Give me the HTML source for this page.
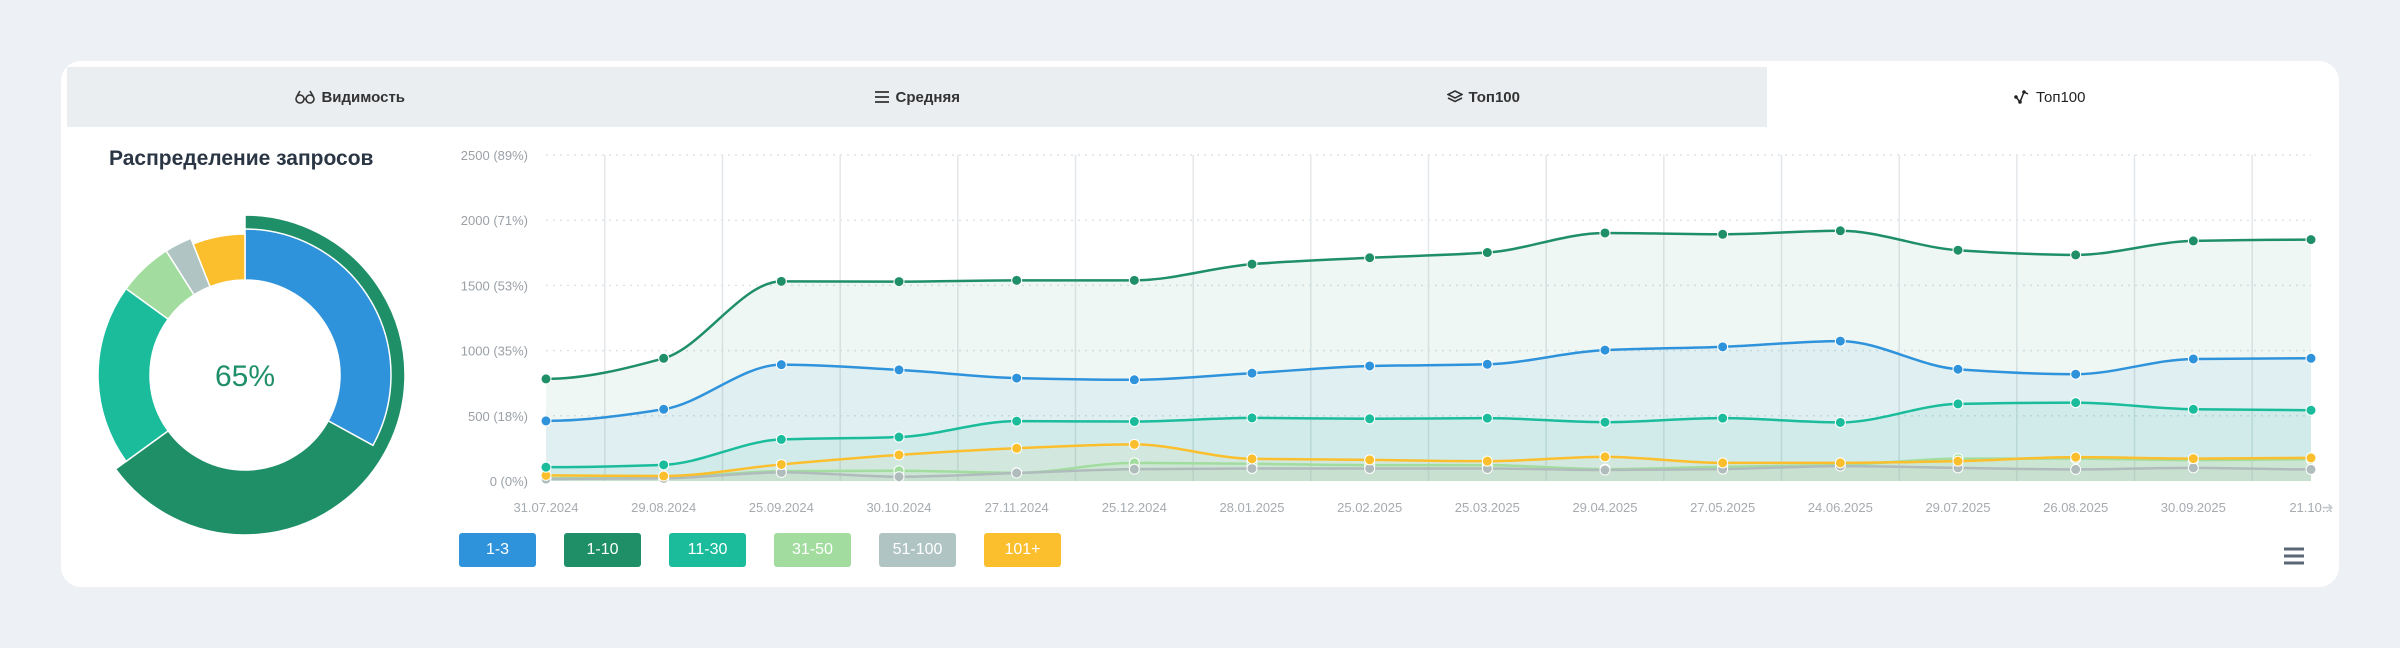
<!DOCTYPE html>
<html><head><meta charset="utf-8">
<style>
body{margin:0;width:2400px;height:648px;background:#edf0f4;font-family:"Liberation Sans","DejaVu Sans",sans-serif;position:relative;overflow:hidden}
.card{position:absolute;left:61px;top:61px;width:2278px;height:526px;background:#fff;border-radius:20px}
.tabs{position:absolute;left:67px;top:67px;width:2266px;height:60px;display:flex}
.tab{flex:1;background:#ebeef0;display:flex;align-items:center;justify-content:center;font-size:15px;font-weight:bold;color:#333;gap:6px}
.tab.active{background:#fff;font-weight:normal;color:#222}
.title{position:absolute;left:109px;top:147px;font-size:21px;font-weight:bold;color:#2b3645}
.lg{position:absolute;top:533px;width:77px;height:34px;border-radius:3px;color:#fff;font-size:16px;display:flex;align-items:center;justify-content:center;box-sizing:border-box}
</style></head><body>
<div class="card"></div>
<div class="tabs">
 <div class="tab"><svg width="20" height="14" viewBox="0 0 20 14"><circle cx="5" cy="9" r="4" fill="none" stroke="#333" stroke-width="1.6"/><circle cx="15" cy="9" r="4" fill="none" stroke="#333" stroke-width="1.6"/><path d="M2 6 L5 1 M18 6 L15 1 M9 9 h2" stroke="#333" stroke-width="1.6" fill="none"/></svg>Видимость</div>
 <div class="tab"><svg width="16" height="14" viewBox="0 0 16 14"><path d="M1 2h14M1 7h14M1 12h14" stroke="#333" stroke-width="1.8"/></svg>Средняя</div>
 <div class="tab"><svg width="16" height="14" viewBox="0 0 16 14"><path d="M8 1 L15 4.5 L8 8 L1 4.5Z M1 8 L8 11.5 L15 8" stroke="#333" stroke-width="1.6" fill="none"/></svg>Топ100</div>
 <div class="tab active"><svg width="16" height="14" viewBox="0 0 16 14"><path d="M2 7 L6 12 L10 2 L14 4" stroke="#222" stroke-width="1.5" fill="none"/><circle cx="2" cy="7" r="1.8" fill="#222"/><circle cx="6" cy="12" r="1.8" fill="#222"/><circle cx="10" cy="2" r="1.8" fill="#222"/></svg>Топ100</div>
</div>
<div class="title">Распределение запросов</div>
<svg id="donut" width="400" height="400" style="position:absolute;left:45px;top:175px"></svg>
<svg id="chart" width="2400" height="648" style="position:absolute;left:0;top:0;pointer-events:none"></svg>
<div class="lg" style="left:459px;background:#2f93dc">1-3</div>
<div class="lg" style="left:564px;background:#1f8f68">1-10</div>
<div class="lg" style="left:669px;background:#1abc9c">11-30</div>
<div class="lg" style="left:774px;background:#a2dd9f">31-50</div>
<div class="lg" style="left:879px;background:#b0c4c4">51-100</div>
<div class="lg" style="left:984px;background:#fbbf2d">101+</div>
<svg width="24" height="20" style="position:absolute;left:2282px;top:546px"><path d="M2 3h20M2 10h20M2 17h20" stroke="#5b6776" stroke-width="3"/></svg>
<script>
const categories=["31.07.2024","29.08.2024","25.09.2024","30.10.2024","27.11.2024","25.12.2024","28.01.2025","25.02.2025","25.03.2025","29.04.2025","27.05.2025","24.06.2025","29.07.2025","26.08.2025","30.09.2025","21.10..."];
const s1_10=[783,941,1531,1529,1539,1539,1663,1712,1752,1902,1892,1919,1770,1734,1841,1851];
const s1_3=[461,550,892,852,789,776,827,882,895,1004,1029,1073,857,819,936,941];
const s11_30=[106,124,319,337,459,456,484,477,482,451,482,449,591,601,550,543];
const s31_50=[20,25,76,79,63,139,132,122,122,91,109,122,172,172,160,167];
const s51_100=[15,20,66,33,61,91,96,96,96,84,91,114,101,89,101,89];
const s101=[43,38,127,200,251,281,170,162,152,185,139,139,152,183,172,177];
const yTicks=[0,500,1000,1500,2000,2500];
const yTickLabels=["0 (0%)","500 (18%)","1000 (35%)","1500 (53%)","2000 (71%)","2500 (89%)"];
const donutNames=["1-3","1-10","11-30","31-50","51-100","101+"];
const donutPct=[33,65,20,6,3,6];
const centerLabel="65%";
const NS="http://www.w3.org/2000/svg";
function mk(p,t,a){const e=document.createElementNS(NS,t);for(const k in a)e.setAttribute(k,a[k]);p.appendChild(e);return e;}
const X0=546,X1=2311,Y0=481,Y1=155,MAX=2500;
const xs=i=>X0+(X1-X0)*i/(categories.length-1);
const ys=v=>Y0-(Y0-Y1)*v/MAX;
const svg=document.getElementById('chart');
for(let i=0;i<yTicks.length;i++){
 const y=ys(yTicks[i]);
 if(i>0){const l=mk(svg,'line',{x1:546,x2:2311,y1:y,y2:y,stroke:'#dfe3e6','stroke-width':1.5,'stroke-dasharray':'2 5'});
 }
 const t=mk(svg,'text',{x:528,y:y+5,'text-anchor':'end','font-size':13,fill:'#9aa0a6'});t.textContent=yTickLabels[i];
 
}
for(let i=0;i<categories.length-1;i++){
 const x=(xs(i)+xs(i+1))/2;
 const l=mk(svg,'line',{x1:x,x2:x,y1:Y1,y2:Y0,stroke:'#e3e7ea','stroke-width':1.5});
 
}
categories.forEach((c,i)=>{const t=mk(svg,'text',{x:xs(i),y:512,'text-anchor':'middle','font-size':13,fill:'#a6abb0'});t.textContent=c;
 });
const ar=mk(svg,'text',{x:2322,y:512,'font-size':14,fill:'#c5cacf'});ar.textContent='➜';

function path(vals){
 const p=vals.map((v,i)=>[xs(i),ys(v)]);
 const n=p.length,h=p[1][0]-p[0][0];
 const dl=[];for(let i=0;i<n-1;i++)dl.push((p[i+1][1]-p[i][1])/h);
 const m=[];
 for(let i=0;i<n;i++){
  if(i===0||i===n-1){m.push(0);continue;}
  const a=dl[i-1],b=dl[i];
  if(a*b<=0)m.push(0);else m.push(2*a*b/(a+b));
 }
 let d=`M${p[0][0]},${p[0][1]}`;
 for(let i=1;i<n;i++){
  d+=` C${p[i-1][0]+h/3},${p[i-1][1]+m[i-1]*h/3} ${p[i][0]-h/3},${p[i][1]-m[i]*h/3} ${p[i][0]},${p[i][1]}`;
 }
 return d;
}
const series=[[s1_10,'#1f8f68','#1f8f68',0.07,'series-1-10'],[s1_3,'#2f93dc','#2f93dc',0.08,'series-1-3'],[s11_30,'#1abc9c','#1abc9c',0.08,'series-11-30'],[s31_50,'#a2dd9f','#a2dd9f',0.15,'series-31-50'],[s51_100,'#b0bcbc','#b0bcbc',0.12,'series-51-100'],[s101,'#fbbf2d','#fbbf2d',0.06,'series-101-plus']];
series.forEach(s=>{const d=path(s[0]);
 const a=mk(svg,'path',{d:d+` L${xs(s[0].length-1)},${Y0} L${X0},${Y0} Z`,fill:s[2],'fill-opacity':s[3]});
 });
[3,4,5,2,1,0].forEach(k=>{const s=series[k];
 const l=mk(svg,'path',{d:path(s[0]),fill:'none',stroke:s[1],'stroke-width':2.5});
 
 s[0].forEach((v,i)=>{const c=mk(svg,'circle',{cx:xs(i),cy:ys(v),r:5,fill:s[1],stroke:'#fff','stroke-width':1});
  });
});
const dn=document.getElementById('donut');
const cx=200,cy=200;
function arc(a0,a1,r0,r1,col){
 const P=(a,r)=>[cx+r*Math.sin(a*Math.PI/180),cy-r*Math.cos(a*Math.PI/180)];
 const lg=(a1-a0)>180?1:0;
 const [x1,y1]=P(a0,r1),[x2,y2]=P(a1,r1),[x3,y3]=P(a1,r0),[x4,y4]=P(a0,r0);
 return mk(dn,'path',{d:`M${x1},${y1} A${r1},${r1} 0 ${lg} 1 ${x2},${y2} L${x3},${y3} A${r0},${r0} 0 ${lg} 0 ${x4},${y4}Z`,fill:col,stroke:'#fff','stroke-width':1.5});
}
const cols=['#2f93dc','#1f8f68','#1abc9c','#a2dd9f','#b0c4c4','#fbbf2d'];
const a13=donutPct[0]*3.6, a110=donutPct[1]*3.6;
let e=arc(0,a110,95,160,cols[1]);
e=arc(0,a13,95,146,cols[0]);
let acc=a110;
const rest=donutPct[2]+donutPct[3]+donutPct[4]+donutPct[5];
for(let i=2;i<6;i++){const w=donutPct[i]*(360-a110)/rest;
 e=arc(acc,acc+w,95,i===5?141:147,cols[i]);
 acc+=w;}
const ct=mk(dn,'text',{x:cx,y:cy+11,'text-anchor':'middle','font-size':30,fill:'#1f8f68'});ct.textContent=centerLabel;

</script>
</body></html>
